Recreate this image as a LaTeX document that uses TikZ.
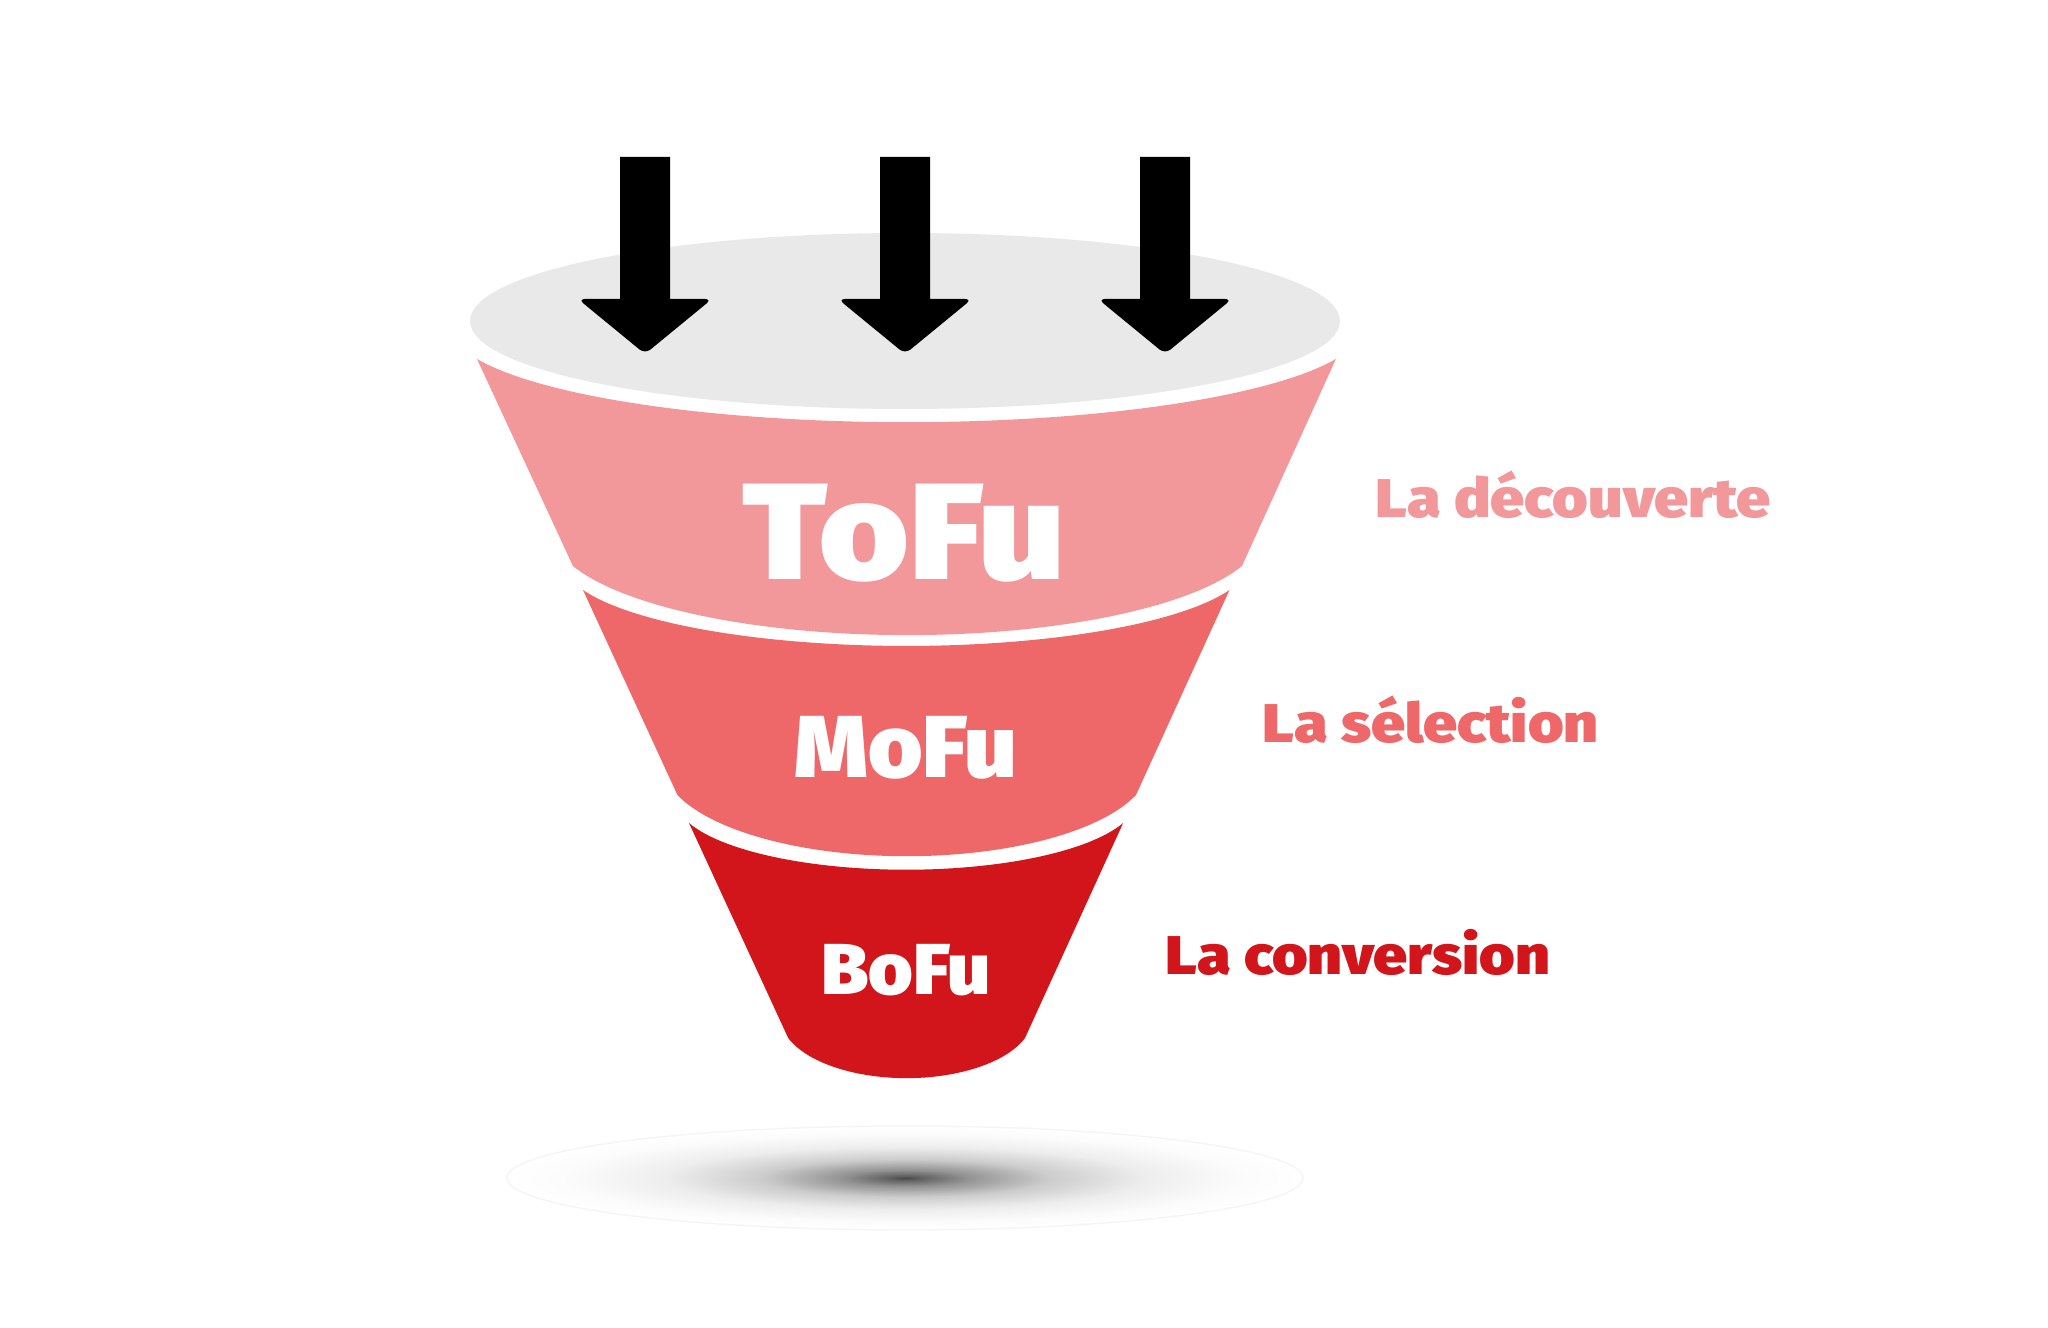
\documentclass[tikz,border=0pt]{standalone}
\usepackage{fontspec}
\usepackage{xcolor}
\usepackage{tikz}
\newfontfamily\heavyfont{Fira Sans Black}[FakeStretch=1.12]
\newfontfamily\stagefont{Fira Sans Black}[FakeStretch=1.06]
\definecolor{tofupink}{HTML}{F2979A}
\definecolor{mofured}{HTML}{EE6869}
\definecolor{bofured}{HTML}{D2151A}
\definecolor{rimgray}{HTML}{E9E9E9}
\pgfdeclareradialshading{floorshadow}{\pgfpoint{0bp}{0bp}}{color(0bp)=(black!72); color(1bp)=(black!62); color(4bp)=(black!42); color(9bp)=(black!20); color(15bp)=(black!7); color(21bp)=(black!1.5); color(25bp)=(white); color(50bp)=(white)}

\begin{document}
\begin{tikzpicture}[x=0.01cm, y=-0.01cm,
    stage/.style={text=white, anchor=base, inner sep=0pt},
    phase/.style={anchor=base west, inner sep=0pt, font=\heavyfont\fontsize{15.5}{16}\selectfont},
    downarrow/.style={fill=black}]
                \fill[white] (0,0) rectangle (2048,1328);
                \useasboundingbox (0,0) rectangle (2048,1328);
                \shade[shading=floorshadow] (905,1178) ellipse[x radius=398, y radius=52];
                \draw[black!4, line width=0.4pt] (905,1178) ellipse[x radius=398, y radius=52];
                \fill[rimgray] (905,321) ellipse[x radius=435, y radius=88];
                \fill[tofupink] (477,359) arc[start angle=160, end angle=20, x radius=457, y radius=96]
                    -- (1242,566) arc[start angle=20, end angle=160, x radius=356, y radius=105] -- cycle;
                \fill[mofured] (583,590) arc[start angle=160, end angle=20, x radius=344, y radius=85]
                    -- (1136,795) arc[start angle=20, end angle=160, x radius=244, y radius=93] -- cycle;
                \fill[bofured] (689,823) arc[start angle=160, end angle=20, x radius=231, y radius=71]
                    -- (1025,1038) arc[start angle=20, end angle=160, x radius=126, y radius=61] -- cycle;
                \foreach \ax in {645,905,1165}
                    \fill[downarrow] (\ax-25,157) -- (\ax+25,157) -- (\ax+25,299) [rounded corners=2] -- (\ax+67,299)
                        -- (\ax,354) -- (\ax-67,299) [sharp corners] -- (\ax-25,299) -- cycle;
                \node[stage, font=\heavyfont\fontsize{39}{39}\selectfont] (tofu) at (904,580) {ToFu};
                \node[stage, font=\stagefont\fontsize{25}{25}\selectfont] (mofu) at (906,778) {MoFu};
                \node[stage, font=\stagefont\fontsize{20.5}{21}\selectfont] (bofu) at (906,994) {BoFu};
                \node[phase, text=tofupink] (discover) at (1375,518) {La découverte};
                \node[phase, text=mofured] (select) at (1262,743) {La sélection};
                \node[phase, text=bofured] (convert) at (1165,974) {La conversion};
            \end{tikzpicture}
\end{document}
